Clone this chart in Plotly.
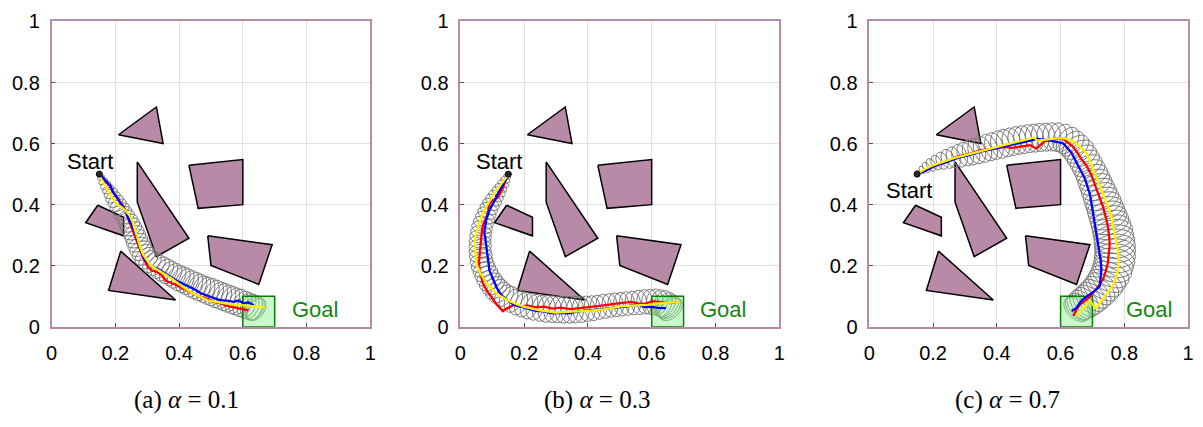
import numpy as np
import plotly.graph_objects as go

# ---------------- data ----------------
TICKS = [0, 0.2, 0.4, 0.6, 0.8, 1]
TICK_LABELS = ["0", "0.2", "0.4", "0.6", "0.8", "1"]
CAPTIONS = ["(a) <i>α</i>\u00a0=\u00a00.1", "(b) <i>α</i>\u00a0=\u00a00.3", "(c) <i>α</i>\u00a0=\u00a00.7"]

START = (0.15, 0.50)
GOAL_X = [0.6, 0.7, 0.7, 0.6, 0.6]
GOAL_Y = [0.0, 0.0, 0.1, 0.1, 0.0]

TRI_TOP_X = [0.210, 0.329, 0.350]
TRI_TOP_Y = [0.629, 0.720, 0.600]
KITE_X = [0.269, 0.431, 0.329, 0.269]
KITE_Y = [0.540, 0.290, 0.230, 0.408]
SQUARE_X = [0.431, 0.600, 0.600, 0.460]
SQUARE_Y = [0.529, 0.548, 0.400, 0.388]
SMALL_QUAD_X = [0.145, 0.226, 0.226, 0.107]
SMALL_QUAD_Y = [0.398, 0.359, 0.298, 0.341]
QUAD_RIGHT_X = [0.490, 0.692, 0.650, 0.500]
QUAD_RIGHT_Y = [0.298, 0.269, 0.139, 0.201]
TRI_BOT_X = [0.217, 0.389, 0.179]
TRI_BOT_Y = [0.248, 0.088, 0.119]

# panel (a) alpha = 0.1
A_RED_X = [0.150, 0.157, 0.170, 0.183, 0.190, 0.204, 0.215, 0.225, 0.233, 0.240, 0.248, 0.256, 0.263, 0.271, 0.279, 0.287, 0.300, 0.313, 0.330, 0.344, 0.360, 0.375, 0.390, 0.406, 0.425, 0.447, 0.468, 0.489, 0.510, 0.530, 0.545, 0.561, 0.577, 0.592, 0.605, 0.618]
A_RED_Y = [0.500, 0.491, 0.478, 0.460, 0.447, 0.423, 0.410, 0.392, 0.380, 0.356, 0.333, 0.315, 0.290, 0.268, 0.250, 0.227, 0.200, 0.185, 0.180, 0.170, 0.150, 0.144, 0.138, 0.128, 0.120, 0.108, 0.098, 0.092, 0.082, 0.077, 0.070, 0.066, 0.062, 0.058, 0.056, 0.054]
A_BLUE_X = [0.147, 0.160, 0.173, 0.185, 0.194, 0.205, 0.214, 0.225, 0.235, 0.243, 0.251, 0.259, 0.266, 0.271, 0.276, 0.284, 0.292, 0.305, 0.318, 0.333, 0.349, 0.365, 0.380, 0.398, 0.416, 0.432, 0.447, 0.468, 0.489, 0.510, 0.530, 0.550, 0.571, 0.587, 0.602, 0.618, 0.634]
A_BLUE_Y = [0.501, 0.490, 0.475, 0.462, 0.439, 0.425, 0.408, 0.392, 0.372, 0.350, 0.335, 0.318, 0.299, 0.280, 0.263, 0.240, 0.221, 0.206, 0.196, 0.190, 0.180, 0.168, 0.159, 0.148, 0.139, 0.132, 0.124, 0.110, 0.102, 0.093, 0.087, 0.086, 0.082, 0.086, 0.077, 0.080, 0.071]
A_YEL_X = [0.150, 0.152, 0.165, 0.178, 0.192, 0.209, 0.222, 0.235, 0.243, 0.251, 0.256, 0.261, 0.266, 0.271, 0.279, 0.287, 0.297, 0.307, 0.318, 0.328, 0.344, 0.359, 0.375, 0.390, 0.403, 0.416, 0.432, 0.447, 0.468, 0.489, 0.515, 0.540, 0.566, 0.592, 0.613, 0.634, 0.652, 0.670]
A_YEL_Y = [0.500, 0.491, 0.466, 0.444, 0.420, 0.398, 0.390, 0.377, 0.365, 0.356, 0.338, 0.320, 0.300, 0.279, 0.258, 0.237, 0.220, 0.206, 0.196, 0.190, 0.181, 0.170, 0.159, 0.149, 0.138, 0.128, 0.118, 0.108, 0.098, 0.087, 0.082, 0.077, 0.074, 0.071, 0.070, 0.068, 0.066, 0.064]
A_ELL_X = [0.147, 0.155, 0.162, 0.170, 0.178, 0.186, 0.193, 0.201, 0.209, 0.217, 0.224, 0.232, 0.240, 0.246, 0.252, 0.258, 0.263, 0.268, 0.273, 0.279, 0.286, 0.294, 0.304, 0.315, 0.328, 0.341, 0.354, 0.367, 0.380, 0.392, 0.405, 0.418, 0.431, 0.444, 0.457, 0.470, 0.483, 0.496, 0.509, 0.522, 0.535, 0.548, 0.560, 0.573, 0.586, 0.599, 0.612, 0.622, 0.633, 0.638, 0.643]
A_ELL_Y = [0.502, 0.489, 0.476, 0.463, 0.450, 0.437, 0.424, 0.411, 0.398, 0.385, 0.372, 0.359, 0.346, 0.333, 0.321, 0.308, 0.295, 0.282, 0.269, 0.256, 0.243, 0.231, 0.220, 0.211, 0.202, 0.194, 0.186, 0.178, 0.171, 0.164, 0.157, 0.151, 0.145, 0.138, 0.132, 0.126, 0.121, 0.116, 0.111, 0.105, 0.100, 0.095, 0.090, 0.085, 0.081, 0.075, 0.070, 0.066, 0.062, 0.060, 0.057]
A_ELL_R = [0.008, 0.012, 0.015, 0.018, 0.020, 0.023, 0.025, 0.027, 0.028, 0.029, 0.030, 0.031, 0.032, 0.033, 0.033, 0.034, 0.034, 0.035, 0.035, 0.036, 0.036, 0.037, 0.037, 0.038, 0.038, 0.039, 0.040, 0.040, 0.040, 0.041, 0.042, 0.042, 0.042, 0.043, 0.043, 0.043, 0.043, 0.044, 0.044, 0.044, 0.044, 0.044, 0.044, 0.044, 0.044, 0.044, 0.043, 0.043, 0.042, 0.041, 0.040]

# panel (b) alpha = 0.3
B_RED_X = [0.150, 0.148, 0.140, 0.133, 0.125, 0.117, 0.100, 0.091, 0.086, 0.078, 0.070, 0.067, 0.065, 0.062, 0.060, 0.058, 0.060, 0.065, 0.070, 0.078, 0.086, 0.097, 0.107, 0.120, 0.133, 0.145, 0.158, 0.174, 0.190, 0.210, 0.236, 0.262, 0.288, 0.314, 0.345, 0.376, 0.430, 0.490, 0.536, 0.560, 0.583, 0.604, 0.624, 0.655, 0.686]
B_RED_Y = [0.500, 0.496, 0.476, 0.454, 0.440, 0.423, 0.412, 0.403, 0.372, 0.352, 0.330, 0.310, 0.289, 0.262, 0.237, 0.210, 0.185, 0.165, 0.144, 0.128, 0.113, 0.100, 0.082, 0.066, 0.051, 0.060, 0.066, 0.075, 0.066, 0.070, 0.064, 0.066, 0.060, 0.063, 0.058, 0.061, 0.068, 0.076, 0.082, 0.076, 0.077, 0.084, 0.082, 0.078, 0.082]
B_BLUE_X = [0.153, 0.145, 0.138, 0.130, 0.122, 0.114, 0.107, 0.099, 0.091, 0.086, 0.081, 0.078, 0.075, 0.078, 0.081, 0.084, 0.086, 0.088, 0.091, 0.099, 0.107, 0.114, 0.122, 0.132, 0.143, 0.156, 0.169, 0.190, 0.210, 0.236, 0.262, 0.288, 0.314, 0.340, 0.365, 0.391, 0.417, 0.443, 0.469, 0.495, 0.521, 0.542, 0.562, 0.578, 0.593, 0.620, 0.645]
B_BLUE_Y = [0.501, 0.488, 0.475, 0.460, 0.444, 0.430, 0.413, 0.398, 0.382, 0.366, 0.351, 0.330, 0.310, 0.290, 0.268, 0.248, 0.227, 0.206, 0.185, 0.165, 0.144, 0.128, 0.113, 0.100, 0.092, 0.080, 0.071, 0.066, 0.061, 0.052, 0.051, 0.044, 0.046, 0.044, 0.050, 0.052, 0.055, 0.058, 0.061, 0.063, 0.066, 0.072, 0.071, 0.065, 0.066, 0.062, 0.061]
B_YEL_X = [0.153, 0.132, 0.112, 0.090, 0.070, 0.056, 0.045, 0.046, 0.050, 0.063, 0.081, 0.100, 0.122, 0.158, 0.195, 0.245, 0.298, 0.350, 0.402, 0.453, 0.505, 0.548, 0.588, 0.620, 0.650, 0.686]
B_YEL_Y = [0.502, 0.474, 0.445, 0.410, 0.372, 0.330, 0.290, 0.248, 0.207, 0.174, 0.145, 0.122, 0.103, 0.082, 0.067, 0.055, 0.047, 0.050, 0.052, 0.058, 0.067, 0.070, 0.072, 0.077, 0.078, 0.081]
B_ELL_X = [0.153, 0.147, 0.141, 0.134, 0.127, 0.120, 0.112, 0.104, 0.096, 0.089, 0.083, 0.077, 0.072, 0.068, 0.065, 0.063, 0.062, 0.062, 0.062, 0.064, 0.066, 0.070, 0.075, 0.081, 0.087, 0.095, 0.104, 0.113, 0.124, 0.137, 0.151, 0.166, 0.182, 0.198, 0.215, 0.233, 0.252, 0.270, 0.288, 0.306, 0.324, 0.342, 0.360, 0.378, 0.396, 0.414, 0.433, 0.451, 0.469, 0.487, 0.505, 0.523, 0.541, 0.560, 0.578, 0.594, 0.609, 0.622, 0.635, 0.643, 0.650, 0.655, 0.660]
B_ELL_Y = [0.502, 0.492, 0.481, 0.468, 0.455, 0.442, 0.429, 0.415, 0.401, 0.387, 0.372, 0.357, 0.341, 0.326, 0.310, 0.295, 0.279, 0.264, 0.248, 0.233, 0.217, 0.202, 0.188, 0.174, 0.160, 0.147, 0.134, 0.123, 0.112, 0.102, 0.094, 0.086, 0.079, 0.073, 0.068, 0.064, 0.061, 0.059, 0.058, 0.057, 0.056, 0.056, 0.056, 0.057, 0.059, 0.061, 0.064, 0.067, 0.070, 0.072, 0.074, 0.076, 0.078, 0.080, 0.082, 0.082, 0.082, 0.079, 0.076, 0.072, 0.067, 0.062, 0.057]
B_ELL_R = [0.008, 0.012, 0.015, 0.018, 0.020, 0.023, 0.025, 0.027, 0.028, 0.029, 0.030, 0.031, 0.032, 0.033, 0.033, 0.034, 0.034, 0.035, 0.035, 0.036, 0.036, 0.037, 0.037, 0.038, 0.038, 0.039, 0.039, 0.040, 0.040, 0.040, 0.041, 0.041, 0.042, 0.042, 0.043, 0.043, 0.043, 0.044, 0.044, 0.044, 0.044, 0.044, 0.043, 0.043, 0.042, 0.041, 0.040, 0.040, 0.039, 0.039, 0.039, 0.039, 0.039, 0.040, 0.040, 0.041, 0.042, 0.043, 0.044, 0.044, 0.044, 0.044, 0.044]

# panel (c) alpha = 0.7
C_RED_X = [0.150, 0.178, 0.205, 0.240, 0.277, 0.313, 0.350, 0.386, 0.422, 0.448, 0.474, 0.490, 0.505, 0.516, 0.526, 0.537, 0.547, 0.562, 0.578, 0.594, 0.609, 0.625, 0.640, 0.653, 0.666, 0.680, 0.692, 0.702, 0.712, 0.722, 0.733, 0.741, 0.748, 0.752, 0.754, 0.751, 0.748, 0.741, 0.733, 0.722, 0.712, 0.702, 0.692, 0.676, 0.660, 0.650, 0.640]
C_RED_Y = [0.500, 0.515, 0.527, 0.540, 0.558, 0.566, 0.579, 0.583, 0.589, 0.586, 0.589, 0.592, 0.595, 0.588, 0.584, 0.596, 0.605, 0.612, 0.615, 0.617, 0.615, 0.603, 0.589, 0.570, 0.548, 0.530, 0.507, 0.482, 0.455, 0.424, 0.393, 0.362, 0.331, 0.300, 0.269, 0.238, 0.207, 0.180, 0.155, 0.138, 0.124, 0.110, 0.098, 0.085, 0.072, 0.057, 0.036]
C_BLUE_X = [0.150, 0.178, 0.205, 0.240, 0.277, 0.313, 0.350, 0.386, 0.422, 0.453, 0.484, 0.505, 0.526, 0.547, 0.567, 0.588, 0.609, 0.622, 0.635, 0.645, 0.655, 0.666, 0.676, 0.684, 0.692, 0.697, 0.702, 0.707, 0.712, 0.718, 0.723, 0.726, 0.728, 0.726, 0.723, 0.712, 0.702, 0.692, 0.681, 0.670, 0.660, 0.655, 0.650, 0.635]
C_BLUE_Y = [0.500, 0.512, 0.527, 0.538, 0.553, 0.562, 0.574, 0.582, 0.589, 0.597, 0.605, 0.610, 0.615, 0.613, 0.610, 0.606, 0.600, 0.586, 0.569, 0.548, 0.527, 0.507, 0.486, 0.460, 0.434, 0.403, 0.372, 0.341, 0.310, 0.279, 0.248, 0.217, 0.186, 0.160, 0.134, 0.122, 0.114, 0.106, 0.098, 0.090, 0.078, 0.070, 0.062, 0.052]
C_YEL_X = [0.150, 0.172, 0.195, 0.231, 0.267, 0.308, 0.350, 0.386, 0.422, 0.453, 0.484, 0.500, 0.516, 0.526, 0.547, 0.567, 0.588, 0.609, 0.630, 0.650, 0.666, 0.681, 0.692, 0.702, 0.712, 0.723, 0.733, 0.743, 0.751, 0.759, 0.764, 0.769, 0.775, 0.780, 0.782, 0.780, 0.773, 0.764, 0.748, 0.733, 0.722, 0.712, 0.702, 0.692, 0.681, 0.671, 0.660, 0.650]
C_YEL_Y = [0.500, 0.515, 0.527, 0.540, 0.553, 0.564, 0.574, 0.585, 0.595, 0.602, 0.610, 0.615, 0.620, 0.610, 0.612, 0.615, 0.617, 0.618, 0.612, 0.600, 0.585, 0.569, 0.543, 0.517, 0.491, 0.465, 0.440, 0.414, 0.388, 0.362, 0.336, 0.310, 0.279, 0.248, 0.217, 0.186, 0.160, 0.134, 0.113, 0.093, 0.078, 0.062, 0.072, 0.083, 0.072, 0.062, 0.049, 0.036]
C_ELL_X = [0.153, 0.166, 0.179, 0.194, 0.210, 0.228, 0.246, 0.264, 0.283, 0.301, 0.319, 0.337, 0.355, 0.373, 0.391, 0.410, 0.428, 0.446, 0.464, 0.482, 0.500, 0.518, 0.536, 0.554, 0.572, 0.590, 0.607, 0.622, 0.635, 0.647, 0.658, 0.667, 0.676, 0.684, 0.692, 0.699, 0.705, 0.711, 0.717, 0.723, 0.729, 0.735, 0.740, 0.745, 0.750, 0.755, 0.760, 0.764, 0.767, 0.769, 0.771, 0.771, 0.771, 0.769, 0.766, 0.762, 0.756, 0.748, 0.740, 0.731, 0.721, 0.711, 0.700, 0.690, 0.679, 0.669, 0.660, 0.655, 0.650]
C_ELL_Y = [0.505, 0.514, 0.522, 0.530, 0.538, 0.544, 0.550, 0.555, 0.560, 0.566, 0.571, 0.576, 0.581, 0.587, 0.592, 0.597, 0.602, 0.606, 0.610, 0.613, 0.616, 0.618, 0.620, 0.621, 0.622, 0.621, 0.618, 0.610, 0.600, 0.588, 0.574, 0.559, 0.543, 0.528, 0.512, 0.497, 0.481, 0.466, 0.450, 0.435, 0.419, 0.404, 0.388, 0.373, 0.357, 0.342, 0.326, 0.311, 0.295, 0.280, 0.264, 0.249, 0.233, 0.218, 0.202, 0.187, 0.171, 0.157, 0.143, 0.131, 0.119, 0.108, 0.098, 0.089, 0.081, 0.074, 0.067, 0.062, 0.057]
C_ELL_R = [0.008, 0.013, 0.018, 0.022, 0.025, 0.029, 0.032, 0.035, 0.038, 0.040, 0.042, 0.043, 0.044, 0.045, 0.045, 0.046, 0.046, 0.046, 0.046, 0.046, 0.046, 0.046, 0.046, 0.046, 0.046, 0.047, 0.047, 0.048, 0.048, 0.049, 0.050, 0.050, 0.050, 0.050, 0.050, 0.051, 0.052, 0.053, 0.054, 0.055, 0.056, 0.057, 0.058, 0.059, 0.060, 0.061, 0.062, 0.063, 0.063, 0.064, 0.064, 0.064, 0.064, 0.064, 0.063, 0.063, 0.062, 0.061, 0.060, 0.059, 0.058, 0.057, 0.056, 0.055, 0.054, 0.052, 0.050, 0.049, 0.048]

START_TEXT_POS = [(0.122, 0.542), (0.122, 0.542), (0.124, 0.445)]
GOAL_TEXT_POS = [(0.825, 0.056), (0.824, 0.056), (0.876, 0.056)]

# ---------------- styling ----------------
OBST_FILL = "rgb(185,138,168)"
FRAME = "rgb(180,140,170)"
ELL_COLOR = "rgb(120,120,120)"

fig = go.Figure()

X_DOMAINS = [[46 / 1203, 368 / 1203], [459 / 1203, 781 / 1203], [872 / 1203, 1194 / 1203]]
Y_DOMAIN = [1 - 333 / 427, 1 - 11 / 427]
CAP_X = [182 / 1203, 597 / 1203, 1012 / 1203]

panels = [
    (A_RED_X, A_RED_Y, A_BLUE_X, A_BLUE_Y, A_YEL_X, A_YEL_Y, A_ELL_X, A_ELL_Y, A_ELL_R),
    (B_RED_X, B_RED_Y, B_BLUE_X, B_BLUE_Y, B_YEL_X, B_YEL_Y, B_ELL_X, B_ELL_Y, B_ELL_R),
    (C_RED_X, C_RED_Y, C_BLUE_X, C_BLUE_Y, C_YEL_X, C_YEL_Y, C_ELL_X, C_ELL_Y, C_ELL_R),
]
obstacles = [
    (TRI_TOP_X, TRI_TOP_Y), (KITE_X, KITE_Y), (SQUARE_X, SQUARE_Y),
    (SMALL_QUAD_X, SMALL_QUAD_Y), (QUAD_RIGHT_X, QUAD_RIGHT_Y), (TRI_BOT_X, TRI_BOT_Y),
]


def ellipse_outlines(cx, cy, r, ratio=0.62):
    cx = np.asarray(cx); cy = np.asarray(cy); r = np.asarray(r)
    t = np.linspace(0, 2 * np.pi, 64)
    xs, ys = [], []
    n = len(cx)
    for i in range(n):
        i0, i1 = max(i - 1, 0), min(i + 1, n - 1)
        dx, dy = cx[i1] - cx[i0], cy[i1] - cy[i0]
        L = np.hypot(dx, dy) or 1.0
        tx, ty = dx / L, dy / L
        nx, ny = -ty, tx
        a, b = r[i], r[i] * ratio
        ex = cx[i] + b * np.cos(t) * tx + a * np.sin(t) * nx
        ey = cy[i] + b * np.cos(t) * ty + a * np.sin(t) * ny
        xs += list(ex) + [None]
        ys += list(ey) + [None]
    return xs, ys


for k, (rx, ry, bx, by, yx, yy, ex, ey, er) in enumerate(panels):
    xa = "x" if k == 0 else f"x{k + 1}"
    ya = "y" if k == 0 else f"y{k + 1}"
    for ox, oy in obstacles:
        fig.add_trace(go.Scatter(x=ox + [ox[0]], y=oy + [oy[0]], xaxis=xa, yaxis=ya, mode="lines",
                                 fill="toself", fillcolor=OBST_FILL,
                                 line=dict(color="black", width=1.5), hoverinfo="skip"))
    elx, ely = ellipse_outlines(ex, ey, er)
    fig.add_trace(go.Scatter(x=elx, y=ely, xaxis=xa, yaxis=ya, mode="lines",
                             line=dict(color=ELL_COLOR, width=1.0), hoverinfo="skip"))
    fig.add_trace(go.Scatter(x=GOAL_X, y=GOAL_Y, xaxis=xa, yaxis=ya, mode="lines", fill="toself",
                             fillcolor="rgba(140,240,140,0.45)",
                             line=dict(color="rgb(0,128,0)", width=1.5), hoverinfo="skip"))
    for px, py, col in [(rx, ry, "rgb(255,0,0)"), (bx, by, "rgb(0,0,255)"), (yx, yy, "rgb(255,240,0)")]:
        fig.add_trace(go.Scatter(x=px, y=py, xaxis=xa, yaxis=ya, mode="lines",
                                 line=dict(color=col, width=2.3), hoverinfo="skip"))
    fig.add_trace(go.Scatter(x=[START[0]], y=[START[1]], xaxis=xa, yaxis=ya, mode="markers",
                             marker=dict(size=6, color="rgb(40,40,40)", line=dict(color="black", width=1)),
                             hoverinfo="skip"))
    sx, sy = START_TEXT_POS[k]
    fig.add_annotation(x=sx, y=sy, xref=xa, yref=ya, text="Start", showarrow=False,
                       font=dict(family="Liberation Sans, Arial", size=22, color="black"))
    gx, gy = GOAL_TEXT_POS[k]
    fig.add_annotation(x=gx, y=gy, xref=xa, yref=ya, text="Goal", showarrow=False,
                       font=dict(family="Liberation Sans, Arial", size=22, color="rgb(20,135,20)"))
    fig.add_annotation(x=CAP_X[k], y=1 - 410 / 427, xref="paper", yref="paper", text=CAPTIONS[k],
                       showarrow=False, xanchor="center", yanchor="middle",
                       font=dict(family="Liberation Serif, Times New Roman", size=25, color="black"))

axis_common = dict(range=[0, 1], tickvals=TICKS, ticktext=TICK_LABELS, showgrid=True,
                   gridcolor="rgb(225,225,225)", gridwidth=1, zeroline=False, showline=True,
                   linecolor=FRAME, linewidth=1.5, mirror=True, ticks="inside", ticklen=4,
                   tickcolor="rgb(80,80,80)", tickfont=dict(family="Liberation Sans, Arial", size=20, color="black"),
                   fixedrange=True)

layout = dict(width=1203, height=427, margin=dict(l=0, r=0, t=0, b=0), showlegend=False,
              plot_bgcolor="white", paper_bgcolor="white")
for k in range(3):
    sfx = "" if k == 0 else str(k + 1)
    layout[f"xaxis{sfx}"] = dict(axis_common, domain=X_DOMAINS[k], anchor=f"y{sfx}", ticklabelstandoff=7)
    layout[f"yaxis{sfx}"] = dict(axis_common, domain=Y_DOMAIN, anchor=f"x{sfx}", ticklabelstandoff=6)
fig.update_layout(**layout)

fig.write_html("out.html")
